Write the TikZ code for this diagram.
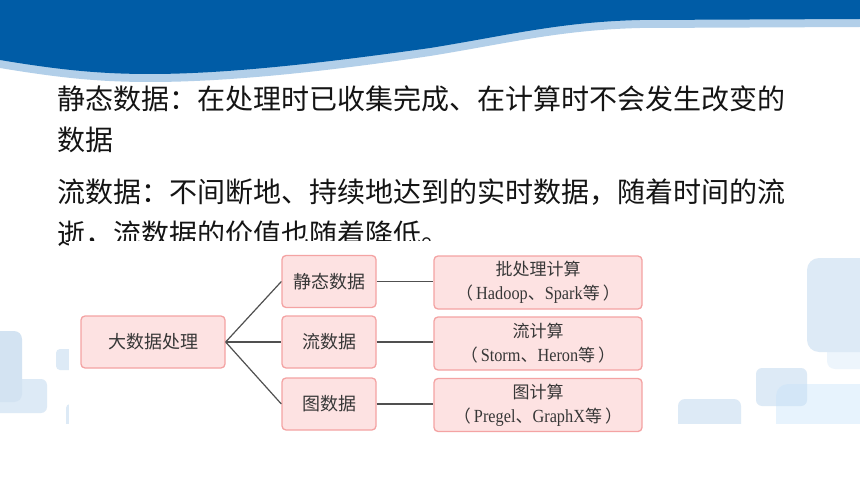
\documentclass[tikz,border=0pt]{standalone}
\usepackage{fontspec}
\setmainfont{Liberation Serif}
\newfontfamily\cjk{Noto Sans CJK SC}
\newfontfamily\lat[FakeStretch=0.88]{Liberation Serif}
\definecolor{hdrblue}{RGB}{0,92,166}
\definecolor{hdrlight}{RGB}{178,207,233}
\definecolor{deco}{RGB}{221,234,246}
\definecolor{decodark}{RGB}{211,227,242}
\definecolor{decolight}{RGB}{237,245,252}
\definecolor{decosky}{RGB}{196,226,250}
\definecolor{boxfill}{RGB}{253,226,226}
\definecolor{boxline}{RGB}{244,163,163}
\definecolor{linkgray}{RGB}{80,80,80}
\definecolor{txt}{RGB}{55,55,55}
\definecolor{bodytxt}{RGB}{20,20,20}
\newcommand{\rbtext}[2]{{\cjk\fontsize{17}{24}\selectfont #1}\\{\cjk\fontsize{17}{24}\selectfont （}\hspace{3pt}{\lat\fontsize{18.5}{24}\selectfont #2}{\cjk\fontsize{17}{24}\selectfont 等}\hspace{3pt}{\cjk\fontsize{17}{24}\selectfont ）}}
\begin{document}
\begin{tikzpicture}[x=1pt,y=-1pt,
  box/.style={draw=boxline, fill=boxfill, line width=1.3pt, rounded corners=4pt, inner sep=0pt, text=txt, align=center},
  midbox/.style={box, minimum width=94pt, minimum height=52pt, font=\cjk\fontsize{18}{18}\selectfont},
  rightbox/.style={box, minimum width=208pt, minimum height=53pt, font=\fontsize{17}{24}\selectfont},
  bodyline/.style={anchor=base west, inner sep=0pt, text=bodytxt, font=\cjk\fontsize{28}{28}\selectfont},
  link/.style={draw=linkgray, line width=1.2pt}]
\useasboundingbox (0,0) rectangle (860,484);
\fill[white] (0,0) rectangle (860,484);
% background decorations
\begin{scope}
\clip (0,0) rectangle (860,423);
\fill[decolight, rounded corners=8pt] (827,330) rectangle (880,369);
\fill[deco, rounded corners=12pt] (807,258) rectangle (880,352);
\fill[deco, rounded corners=6pt] (756,368) rectangle (807,406);
\fill[decosky, fill opacity=0.4, rounded corners=12pt] (776,384) rectangle (880,440);
\fill[deco, rounded corners=7pt] (678,399) rectangle (741,440);
\fill[deco, rounded corners=6pt] (-20,379) rectangle (47,413);
\fill[decodark, rounded corners=8pt] (-20,331) rectangle (22,402);
\fill[deco, rounded corners=4pt] (56,349) rectangle (80,370);
\fill[deco, rounded corners=4pt] (66,404) rectangle (80,440);
\end{scope}
% header wave
\fill[hdrlight] (0,0) -- (860,0) -- (860,27) -- (640,28) .. controls (560,30) and (510,43) .. (430,56) .. controls (330,71) and (230,82) .. (150,82) .. controls (100,82) and (60,78) .. (0,68) -- cycle;
\fill[hdrblue] (0,0) -- (860,0) -- (860,19) -- (640,20) .. controls (560,22) and (510,35) .. (430,48) .. controls (330,62) and (230,74) .. (150,74) .. controls (100,74) and (60,70) .. (0,60) -- cycle;
% body text
\node[bodyline] (t1) at (57,110) {静态数据：在处理时已收集完成、在计算时不会发生改变的};
\node[bodyline] (t2) at (57,151) {数据};
\node[bodyline] (t3) at (57,203) {流数据：不间断地、持续地达到的实时数据，随着时间的流};
\node[bodyline] (t4) at (57,244) {逝，流数据的价值也随着降低。};
% pasted diagram background
\fill[white] (69,241) rectangle (660,440);
% diagram
\node[box, minimum width=144pt, minimum height=52pt, font=\cjk\fontsize{18}{18}\selectfont] (root) at (153,342) {大数据处理};
\node[midbox] (m1) at (329,281.5) {静态数据};
\node[midbox] (m2) at (329,342) {流数据};
\node[midbox] (m3) at (329,404) {图数据};
\node[rightbox] (r1) at (538,282.5) {\rbtext{批处理计算}{Hadoop{\cjk\fontsize{17}{24}\selectfont 、}Spark}};
\node[rightbox] (r2) at (538,343.5) {\rbtext{流计算}{Storm{\cjk\fontsize{17}{24}\selectfont 、}Heron}};
\node[rightbox] (r3) at (538,405) {\rbtext{图计算}{Pregel{\cjk\fontsize{17}{24}\selectfont 、}GraphX}};
\draw[link] (root.east) -- (m1.west);
\draw[link] (root.east) -- (m2.west);
\draw[link] (root.east) -- (m3.west);
\draw[link] (m1.east) -- (m1.east -| r1.west);
\draw[link] (m2.east) -- (m2.east -| r2.west);
\draw[link] (m3.east) -- (m3.east -| r3.west);
\end{tikzpicture}
\end{document}
